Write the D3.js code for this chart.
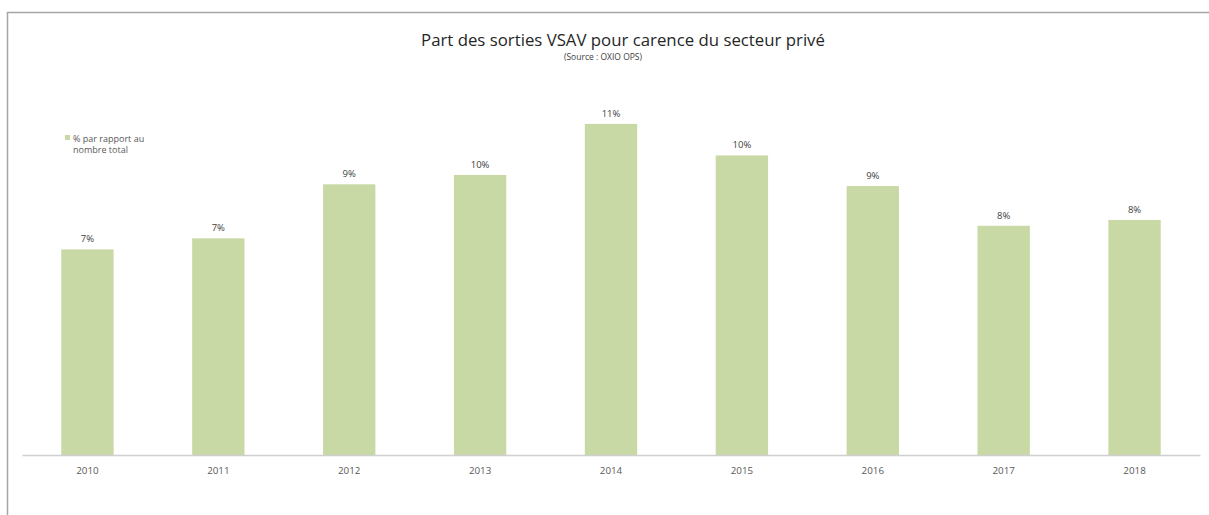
<!DOCTYPE html>
<html>
<head>
<meta charset="utf-8">
<script src="https://cdn.jsdelivr.net/npm/d3@7"></script>
<style>
  html, body { margin: 0; padding: 0; background: #fff; }
  svg { display: block; }
</style>
</head>
<body>
<svg id="chart" width="1209" height="515"></svg>
<script>
// Share of VSAV ambulance call-outs due to private-sector unavailability (%)
const years = ["2010", "2011", "2012", "2013", "2014", "2015", "2016", "2017", "2018"];
const shares = [7.04, 7.42, 9.27, 9.59, 11.34, 10.26, 9.21, 7.85, 8.05];
const titleText = "Part des sorties VSAV pour carence du secteur privé";
const subtitleText = "(Source : OXIO OPS)";
const legendLines = ["% par rapport au", "nombre total"];

const font = "'Open Sans', Lato, sans-serif";
const barColor = "#c9d9a5";
const textColor = "#404040";

const svg = d3.select("#chart");
const W = 1209, H = 515;

// chart area frame (runs off the right and bottom edges)
svg.append("rect")
  .attr("x", 7.5).attr("y", 12.5)
  .attr("width", W + 10).attr("height", H + 10)
  .attr("fill", "#fff")
  .attr("stroke", "#a6a6a6")
  .attr("stroke-width", 1.5);

const plot = { left: 22, right: 1200, top: 105, bottom: 455 };

const x = d3.scaleBand()
  .domain(years)
  .range([plot.left, plot.right])
  .paddingInner(0.6)
  .paddingOuter(0.3);

const y = d3.scaleLinear()
  .domain([0, 12])
  .range([plot.bottom, plot.bottom - 12 * 29.2]);

const data = years.map((yr, i) => ({ year: yr, value: shares[i] }));

// bars
svg.append("g")
  .selectAll("rect")
  .data(data)
  .join("rect")
  .attr("x", d => x(d.year))
  .attr("y", d => y(d.value))
  .attr("width", x.bandwidth())
  .attr("height", d => y(0) - y(d.value))
  .attr("fill", barColor);

// value labels
const fmt = v => d3.format(".0f")(v) + "%";
svg.append("g")
  .selectAll("text")
  .data(data)
  .join("text")
  .attr("x", d => x(d.year) + x.bandwidth() / 2)
  .attr("y", d => y(d.value) - 7)
  .attr("text-anchor", "middle")
  .attr("font-family", font)
  .attr("font-size", 9.5)
  .attr("fill", textColor)
  .text(d => fmt(d.value));

// category axis
const xAxis = svg.append("g")
  .attr("transform", `translate(0,${plot.bottom})`)
  .call(d3.axisBottom(x).tickSize(0).tickPadding(12));
xAxis.select(".domain")
  .attr("stroke", "#d0d0d0")
  .attr("stroke-width", 1.5);
xAxis.selectAll("text")
  .attr("font-family", font)
  .attr("font-size", 9.8)
  .attr("fill", "#595959");

// title
svg.append("text")
  .attr("x", 623).attr("y", 46)
  .attr("text-anchor", "middle")
  .attr("font-family", font)
  .attr("font-size", 16.8)
  .attr("fill", "#262626")
  .text(titleText);

svg.append("text")
  .attr("x", 603).attr("y", 60)
  .attr("text-anchor", "middle")
  .attr("font-family", font)
  .attr("font-size", 8.5)
  .attr("fill", "#404040")
  .text(subtitleText);

// legend
const legend = svg.append("g").attr("transform", "translate(65,133)");
legend.append("rect")
  .attr("x", 0).attr("y", 2)
  .attr("width", 5).attr("height", 5)
  .attr("fill", barColor);
legend.selectAll("text")
  .data(legendLines)
  .join("text")
  .attr("x", 8)
  .attr("y", (d, i) => 9 + i * 11)
  .attr("font-family", font)
  .attr("font-size", 9)
  .attr("fill", "#595959")
  .text(d => d);
</script>
</body>
</html>
